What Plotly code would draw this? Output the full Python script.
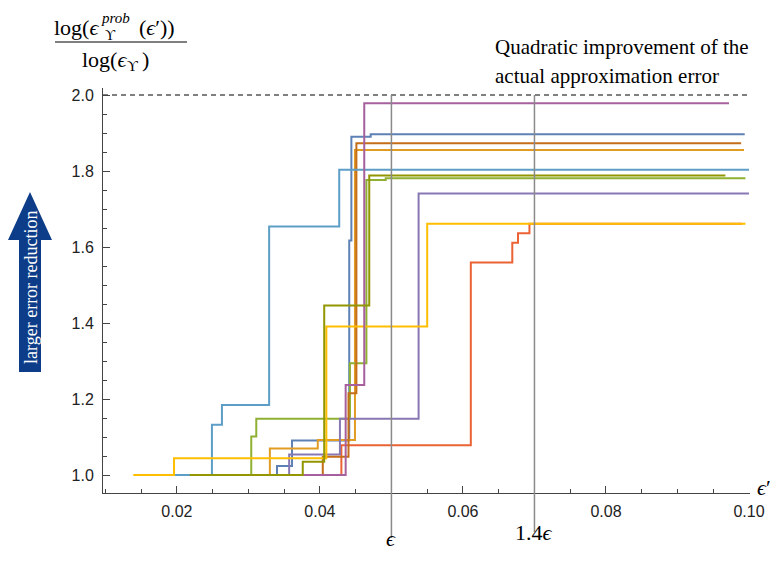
import plotly.graph_objects as go

# ---------------- data ----------------
eps = 0.05
eps_factor = 1.4
quadratic_level = 2.0

x_ticks = [0.02, 0.04, 0.06, 0.08, 0.10]
y_ticks = [1.0, 1.2, 1.4, 1.6, 1.8, 2.0]

# step series: x = positions where a new level starts (last x = end of the run), y = level
blue_x = [0.0245, 0.0340, 0.0361, 0.0441, 0.0444, 0.0471, 0.0994]
blue_y = [1.000, 1.024, 1.091, 1.617, 1.890, 1.897, 1.897]

orange_x = [0.0260, 0.0330, 0.0397, 0.0449, 0.0993]
orange_y = [1.000, 1.070, 1.092, 1.855, 1.855]

green_x = [0.0240, 0.0304, 0.0311, 0.0442, 0.0465, 0.0492, 0.0995]
green_y = [1.000, 1.101, 1.148, 1.294, 1.776, 1.781, 1.781]

red_x = [0.0260, 0.0430, 0.0611, 0.0669, 0.0677, 0.0693, 0.0990]
red_y = [1.000, 1.078, 1.559, 1.611, 1.636, 1.661, 1.661]

purple_x = [0.0250, 0.0357, 0.0428, 0.0538, 0.1000]
purple_y = [1.000, 1.054, 1.148, 1.741, 1.741]

darkorange_x = [0.0270, 0.0404, 0.0440, 0.0451, 0.0989]
darkorange_y = [1.000, 1.048, 1.215, 1.873, 1.873]

lightblue_x = [0.0197, 0.0249, 0.0263, 0.0329, 0.0427, 0.1000]
lightblue_y = [1.000, 1.132, 1.184, 1.654, 1.803, 1.803]

yellow_x = [0.0139, 0.0196, 0.0409, 0.0550, 0.0995]
yellow_y = [1.000, 1.044, 1.391, 1.661, 1.661]

magenta_x = [0.0280, 0.0436, 0.0462, 0.0972]
magenta_y = [1.000, 1.237, 1.978, 1.978]

olive_x = [0.0218, 0.0376, 0.0406, 0.0469, 0.0967]
olive_y = [1.000, 1.035, 1.446, 1.788, 1.788]

series = [
    (blue_x, blue_y, "#5E81B5"),
    (orange_x, orange_y, "#E19C24"),
    (green_x, green_y, "#8FB032"),
    (red_x, red_y, "#EB6235"),
    (purple_x, purple_y, "#8778B3"),
    (darkorange_x, darkorange_y, "#C56E1A"),
    (lightblue_x, lightblue_y, "#5D9EC7"),
    (yellow_x, yellow_y, "#FFBF00"),
    (magenta_x, magenta_y, "#A5609D"),
    (olive_x, olive_y, "#929600"),
]

# ---------------- layout geometry (screen pixels) ----------------
W, H = 778, 562
OFF = 8                      # default page body margin
PL, PR, PT, PB = 103, 750, 88, 493
X_RANGE = [0.009668, 0.10014]
Y_RANGE = [0.95263, 2.01842]


def px(x):
    return (x - PL) / (PR - PL)


def py(y):
    return (PB - y) / (PB - PT)


def yp(v):
    return (v - Y_RANGE[0]) / (Y_RANGE[1] - Y_RANGE[0])


SERIF = "Liberation Serif, DejaVu Serif, serif"
SANS = "Liberation Sans, Arial, sans-serif"

fig = go.Figure()

# quadratic reference (dashed)
fig.add_trace(go.Scatter(x=[X_RANGE[0], 0.1], y=[quadratic_level, quadratic_level],
                         mode="lines", line=dict(color="#555555", width=1.5, dash="5px,4px"),
                         hoverinfo="skip"))

for sx, sy, col in series:
    fig.add_trace(go.Scatter(x=sx, y=sy, mode="lines", line=dict(color=col, width=2, shape="hv"),
                             hoverinfo="skip"))

shapes = []
# vertical reference lines at eps and 1.4 eps
for xv, bottom in [(eps, 538), (eps_factor * eps, 532)]:
    shapes.append(dict(type="line", xref="x", yref="paper", x0=xv, x1=xv,
                       y0=py(bottom), y1=yp(quadratic_level),
                       line=dict(color="#8a8a8a", width=1.5), layer="above"))

# fraction bar
shapes.append(dict(type="line", xref="paper", yref="paper", x0=px(55), x1=px(187),
                   y0=py(42), y1=py(42), line=dict(color="black", width=1)))

# big arrow
cx = 30
pts = [(cx, 192), (cx + 22, 240), (cx + 11, 240), (cx + 11, 372),
       (cx - 11, 372), (cx - 11, 240), (cx - 22, 240)]
path = "M " + " L ".join(f"{px(a):.5f},{py(b):.5f}" for a, b in pts) + " Z"
shapes.append(dict(type="path", xref="paper", yref="paper", path=path,
                   fillcolor="#0D3D88", line=dict(width=0)))

annotations = []


def ann(text, x, y, size, xanchor="center", yanchor="middle", color="black", angle=0):
    annotations.append(dict(text=text, xref="paper", yref="paper", x=px(x), y=py(y),
                            xanchor=xanchor, yanchor=yanchor, showarrow=False,
                            textangle=angle, font=dict(family=SERIF, size=size, color=color)))


# y-axis label (fraction)
ann("log(<i>ϵ</i>", 101, 27, 22, xanchor="right")
ann("<i>prob</i>", 99, 18, 15, xanchor="left")
ann("ϒ", 103, 35, 14, xanchor="left")
ann("(<i>ϵ</i>′))", 137, 27, 22, xanchor="left")
ann("log(<i>ϵ</i>", 129, 59, 22, xanchor="right")
ann("ϒ", 125, 66, 15, xanchor="left")
ann(")", 140, 59, 22, xanchor="left")

# top-right note
ann("Quadratic improvement of the", 493, 47, 21, xanchor="left")
ann("actual approximation error", 493, 76, 21, xanchor="left")

# axis end label
ann("<i>ϵ</i>′", 764, 487, 22)

# reference labels
annotations.append(dict(text="<i>ϵ</i>", xref="x", yref="paper", x=eps, y=py(553),
                        showarrow=False, font=dict(family=SERIF, size=22, color="black")))
annotations.append(dict(text="1.4<i>ϵ</i>", xref="x", yref="paper", x=eps_factor * eps, y=py(547),
                        showarrow=False, font=dict(family=SERIF, size=22, color="black")))

# arrow text
ann("larger error reduction", cx + 1, 287, 18, color="white", angle=-90)

fig.update_layout(
    width=W, height=H,
    margin=dict(l=PL - OFF, r=W - PR + OFF, t=PT - OFF, b=H - PB + OFF),
    plot_bgcolor="white", paper_bgcolor="white",
    showlegend=False,
    shapes=shapes, annotations=annotations,
)

fig.update_xaxes(range=X_RANGE, showline=True, linecolor="#444444", linewidth=1,
                 ticks="inside", ticklen=7, tickwidth=1, tickcolor="#444444",
                 tickvals=x_ticks, ticktext=[f"{v:.2f}" for v in x_ticks],
                 showgrid=False, zeroline=False,
                 minor=dict(dtick=0.005, tick0=0, ticks="inside", ticklen=4,
                            tickcolor="#444444", showgrid=False),
                 tickfont=dict(family=SANS, size=16, color="#222222"),
                 ticklabelstandoff=4)

fig.update_yaxes(range=Y_RANGE, showline=True, linecolor="#444444", linewidth=1,
                 ticks="inside", ticklen=7, tickwidth=1, tickcolor="#444444",
                 tickvals=y_ticks, ticktext=[f"{v:.1f}" for v in y_ticks],
                 showgrid=False, zeroline=False,
                 minor=dict(dtick=0.05, tick0=0, ticks="inside", ticklen=4,
                            tickcolor="#444444", showgrid=False),
                 tickfont=dict(family=SANS, size=16, color="#222222"),
                 ticklabelstandoff=5)

fig.write_html("out.html")
